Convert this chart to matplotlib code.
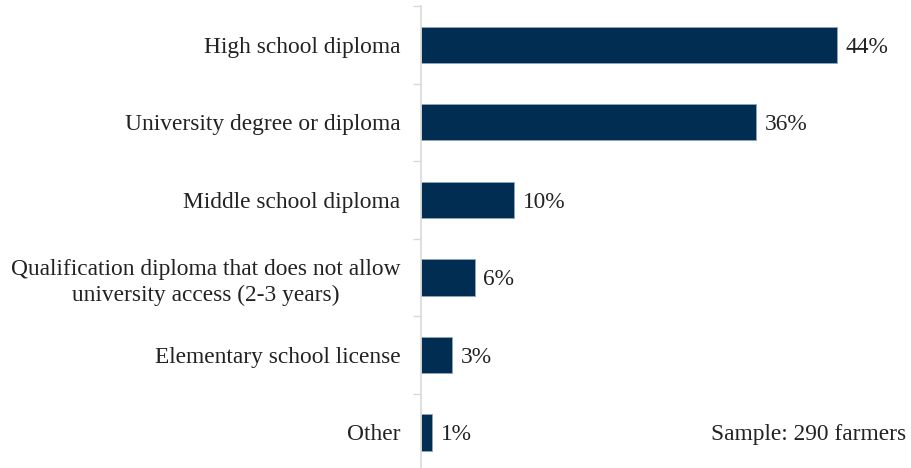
import matplotlib.pyplot as plt

categories = [
    "High school diploma",
    "University degree or diploma",
    "Middle school diploma",
    "Qualification diploma that does not allow\nuniversity access (2-3 years)",
    "Elementary school license",
    "Other",
]
shares = [44.1, 35.6, 9.9, 5.7, 3.3, 1.2]
share_labels = ["44%", "36%", "10%", "6%", "3%", "1%"]
note = "Sample: 290 farmers"

plt.rcParams["font.family"] = ["Liberation Serif"]
fs = 16.8

fig = plt.figure(figsize=(9.11, 4.68), dpi=100)
ax = fig.add_axes([0.4622, -0.0066, 0.5378, 0.9938])

y = list(range(len(categories)))
ax.barh(y, shares, height=0.47, color="#022d52", edgecolor="#8fa6bd", linewidth=0.6)

for yi, v, lab in zip(y, shares, share_labels):
    ax.text(v + 0.9, yi + 0.03, lab, va="center", ha="left", fontsize=fs, color="#222222")

ax.set_ylim(len(categories) - 0.5, -0.5)
ax.set_xlim(0, 52)

ax.set_yticks(y)
ax.set_yticklabels(categories, fontsize=fs, color="#222222", linespacing=1.3,
                   multialignment="center")
ax.tick_params(axis="y", which="major", length=0, pad=15)
ax.set_yticks([i - 0.5 for i in range(len(categories) + 1)], minor=True)
ax.tick_params(axis="y", which="minor", length=6, color="#d9d9d9", width=1)
ax.set_xticks([])

for s in ["top", "right", "bottom"]:
    ax.spines[s].set_visible(False)
ax.spines["left"].set_color("#d9d9d9")
ax.spines["left"].set_linewidth(1.2)

ax.text(0.99, 5.03, note, transform=ax.get_yaxis_transform(), ha="right", va="center",
        fontsize=fs, color="#222222")

fig.savefig("out.png", dpi=100)
